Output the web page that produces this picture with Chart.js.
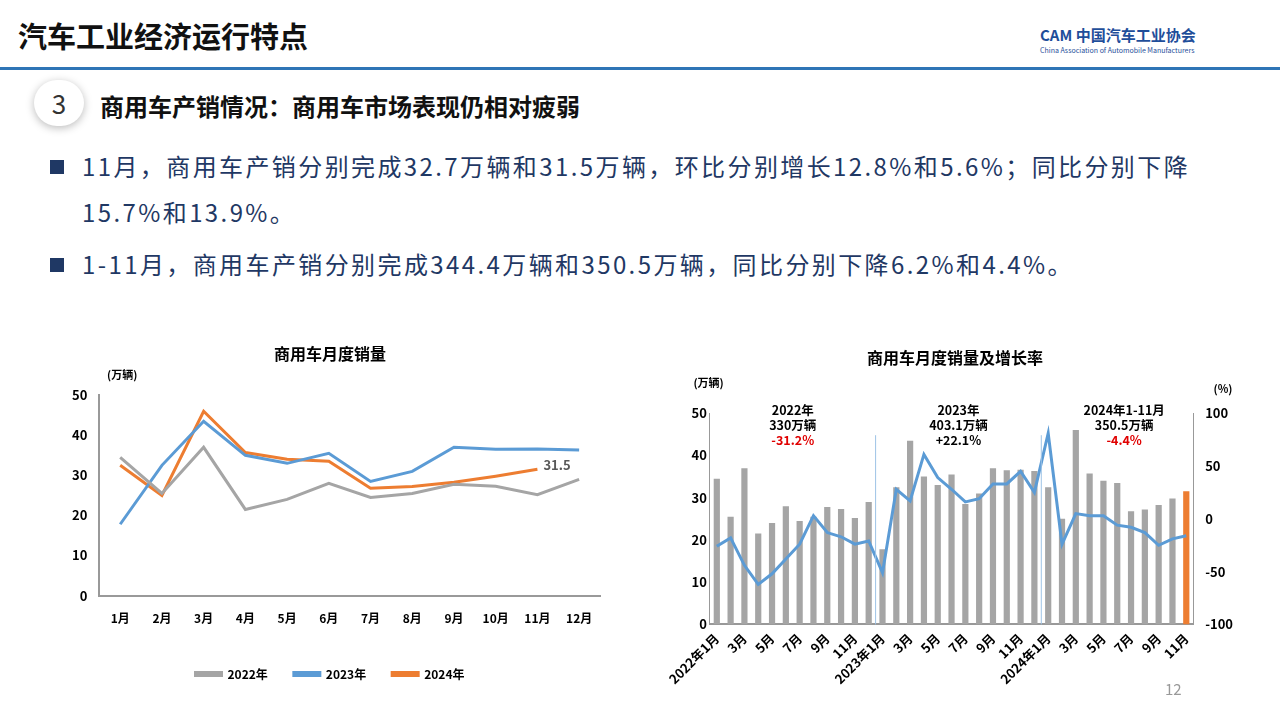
<!DOCTYPE html>
<html><head><meta charset="utf-8">
<script src="https://cdn.jsdelivr.net/npm/chart.js@4/dist/chart.umd.min.js"></script>
<style>
body{margin:0;width:1280px;height:720px;background:#fff;font-family:"Noto Sans CJK SC","Noto Sans",sans-serif;position:relative;overflow:hidden}
.abs{position:absolute}
#title{left:18px;top:14px;font-size:29px;font-weight:bold;color:#111}
#hline{left:0;top:67px;width:1280px;height:3px;background:#2e75b6}
#logo{left:1040px;top:24px;font-size:15px;font-weight:bold;color:#1f4e9a}
#logo small{display:block;font-size:7px;font-weight:normal}
#circ{left:34px;top:80px;width:50px;height:46px;border-radius:25px;background:#fff;box-shadow:0 2px 8px #bbb;font-size:26px;text-align:center;line-height:46px;color:#333}
#sec{left:100px;top:88px;font-size:24px;font-weight:bold;color:#111}
.txt{font-size:24px;color:#1f3864;line-height:40px;white-space:nowrap;letter-spacing:2.4px}
.bul{left:50px}
.bul:before{content:"";display:inline-block;width:14px;height:14px;background:#1f3864;margin-right:18px;vertical-align:2px}
#pg{left:1165px;top:678px;font-size:15px;color:#999}
</style></head><body>
<div id="title" class="abs">汽车工业经济运行特点</div>
<div id="logo" class="abs">CAM 中国汽车工业协会<small>China Association of Automobile Manufacturers</small></div>
<div id="hline" class="abs"></div>
<div id="circ" class="abs">3</div>
<div id="sec" class="abs">商用车产销情况：商用车市场表现仍相对疲弱</div>
<div class="abs txt bul" style="top:146px">11月，商用车产销分别完成32.7万辆和31.5万辆，环比分别增长12.8%和5.6%；同比分别下降</div>
<div class="abs txt" style="left:82px;top:192px">15.7%和13.9%。</div>
<div class="abs txt bul" style="top:244px">1-11月，商用车产销分别完成344.4万辆和350.5万辆，同比分别下降6.2%和4.4%。</div>
<div class="abs" style="left:60px;top:338px;width:550px;height:352px"><canvas id="c1"></canvas></div>
<div class="abs" style="left:665px;top:348px;width:580px;height:345px"><canvas id="c2"></canvas></div>
<div id="pg" class="abs">12</div>
<script>
const months = ['1月','2月','3月','4月','5月','6月','7月','8月','9月','10月','11月','12月'];
const sales2022 = [34.5,25.5,37,21.5,24,28,24.5,25.5,27.8,27.3,25.2,29];
const sales2023 = [17.8,32.5,43.5,35,33,35.5,28.5,31,37,36.5,36.6,36.3];
const sales2024 = [32.5,25,46,35.7,34,33.5,26.8,27.2,28.3,29.8,31.5];
const growth = [-26,-18,-44,-62,-52,-38,-24,3,-13,-17,-24,-21,
  -51,28,17,61,39,28,16,19,33,33,45,25,
  81,-24,5,3,3,-6,-8,-13,-25,-19,-16];
const notes = [
  {at:5.5, lines:['2022年','330万辆','-31.2%']},
  {at:17.5, lines:['2023年','403.1万辆','+22.1%']},
  {at:29.5, lines:['2024年1-11月','350.5万辆','-4.4%']}
];
Chart.defaults.font.family = '"Noto Sans CJK SC", sans-serif';
Chart.defaults.color = '#000';
Chart.defaults.animation = false;

const lastLabel = {
  id:'lastLabel',
  afterDatasetsDraw(chart){
    const m = chart.getDatasetMeta(2), p = m.data[m.data.length-1], ctx = chart.ctx;
    ctx.save(); ctx.font='bold 13px "Noto Sans CJK SC"'; ctx.fillStyle='#595959';
    ctx.textBaseline='middle'; ctx.fillText(sales2024[sales2024.length-1], p.x+6, p.y-4); ctx.restore();
  }
};
new Chart(document.getElementById('c1'), {
  type:'line',
  data:{labels:months, datasets:[
    {label:'2022年', data:sales2022, borderColor:'#a5a5a5'},
    {label:'2023年', data:sales2023, borderColor:'#5b9bd5'},
    {label:'2024年', data:sales2024, borderColor:'#ed7d31'}
  ]},
  options:{responsive:true, maintainAspectRatio:false,
    elements:{point:{radius:0}, line:{borderWidth:3, tension:0}},
    layout:{padding:{left:0,right:10,top:0}},
    plugins:{
      title:{display:true, text:'商用车月度销量', font:{size:16,weight:'bold'}, padding:{top:6,bottom:32}},
      legend:{position:'bottom', labels:{boxWidth:26, boxHeight:3, font:{size:12,weight:'bold'}, padding:26}}
    },
    scales:{
      x:{offset:true, grid:{display:false, drawTicks:false}, border:{color:'#999',width:2}, ticks:{font:{size:12,weight:'bold'}, padding:16}},
      y:{min:0,max:50, ticks:{stepSize:10, font:{size:13,weight:'bold'}, padding:12}, grid:{display:false, drawTicks:false}, border:{color:'#999',width:2}}
    }
  },
  plugins:[lastLabel, {id:'unit', afterDraw(c){const x=c.ctx; x.save(); x.font='bold 11px "Noto Sans CJK SC"'; x.fillStyle='#000'; x.fillText('(万辆)', 47, c.chartArea.top-20); x.restore();}}]
});

const labels2 = [];
[2022,2023,2024].forEach(y => months.forEach((m,i) => { if (y<2024 || i<11) labels2.push(i===0 ? y+'年1月' : m); }));
const barColors = labels2.map((l,i) => i===labels2.length-1 ? '#ed7d31' : '#a5a5a5');
const salesAll = sales2022.concat(sales2023, sales2024);

const notesPlugin = {
  id:'notes',
  afterDatasetsDraw(chart){
    const ctx = chart.ctx, xs = chart.scales.x, top = chart.chartArea.top;
    ctx.save(); ctx.textAlign='center';
    [11.5, 23.5].forEach(v => { const px = xs.getPixelForValue(v); ctx.strokeStyle='#9dc3e6'; ctx.lineWidth=1;
      ctx.beginPath(); ctx.moveTo(px, top+22); ctx.lineTo(px, chart.chartArea.bottom); ctx.stroke(); });
    notes.forEach(n => {
      const px = xs.getPixelForValue(n.at);
      n.lines.forEach((t,k) => { ctx.font = 'bold 12.5px "Noto Sans CJK SC"'; ctx.fillStyle = k===2 && t[0]==='-' ? '#e00000' : '#000';
        ctx.fillText(t, px, top + 2 + k*15); });
    });
    ctx.font='bold 11px "Noto Sans CJK SC"'; ctx.fillStyle='#000';
    ctx.fillText('(万辆)', chart.scales.y.left+20, top-26);
    ctx.fillText('(%)', chart.scales.y1.right-22, top-20);
    ctx.restore();
  }
};
new Chart(document.getElementById('c2'), {
  data:{labels:labels2, datasets:[
    {type:'line', data:growth, yAxisID:'y1', borderColor:'#5b9bd5', borderWidth:3, pointRadius:0, tension:0, order:0},
    {type:'bar', data:salesAll, yAxisID:'y', backgroundColor:barColors, barPercentage:0.45, categoryPercentage:1, order:1}
  ]},
  options:{responsive:true, maintainAspectRatio:false,
    layout:{padding:{top:0,right:0,left:0}},
    plugins:{legend:{display:false},
      title:{display:true, text:'商用车月度销量及增长率', font:{size:16,weight:'bold'}, padding:{top:0,bottom:46}}},
    scales:{
      x:{grid:{display:false, drawTicks:false}, border:{color:'#999',width:2},
        ticks:{autoSkip:false, maxRotation:45, minRotation:45, padding:6, font:{size:13,weight:'bold'},
          callback(v,i){ return i%2===0 ? labels2[i] : ''; }}},
      y:{min:0,max:50, position:'left', ticks:{stepSize:10, font:{size:13,weight:'bold'}}, grid:{display:false, drawTicks:false}, border:{color:'#999',width:1}},
      y1:{min:-100,max:100, position:'right', ticks:{stepSize:50, font:{size:13,weight:'bold'}, padding:12}, grid:{display:false, drawTicks:false}, border:{color:'#999',width:1}}
    }
  },
  plugins:[notesPlugin]
});
</script>
</body></html>
